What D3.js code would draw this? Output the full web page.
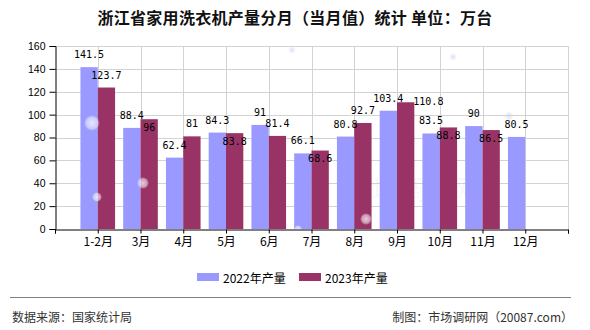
<!DOCTYPE html>
<html>
<head>
<meta charset="utf-8">
<script src="https://cdn.jsdelivr.net/npm/d3@7"></script>
<style>
  html, body { margin: 0; padding: 0; background: #fff; }
  svg { display: block; }
</style>
</head>
<body>
<svg id="chart" width="590" height="330"></svg>
<script>
// Monthly washing-machine output, Zhejiang province (10k units)
const categories = ["1-2月", "3月", "4月", "5月", "6月", "7月", "8月", "9月", "10月", "11月", "12月"];
const values2022 = [141.5, 88.4, 62.4, 84.3, 91, 66.1, 80.8, 103.4, 83.5, 90, 80.5];
const values2023 = [123.7, 96, 81, 83.8, 81.4, 68.6, 92.7, 110.8, 88.8, 86.5];
const seriesNames = ["2022年产量", "2023年产量"];
const yTicks = [0, 20, 40, 60, 80, 100, 120, 140, 160];

// where each value label sits relative to its bar
const labelPlace2022 = values2022.map(() => "top");
const labelPlace2023 = ["top", "below", "top", "below", "top", "below", "top", "right", "below", "below"];

const colors = ["#9999ff", "#993366"];
const cjk = "'Noto Sans CJK SC', 'Noto Sans', sans-serif";
const mono = "'DejaVu Sans Mono', 'Liberation Mono', monospace";

const svg = d3.select("#chart");
const plot = { left: 55, right: 568, top: 46, bottom: 229 };

svg.append("rect").attr("width", 590).attr("height", 330).attr("fill", "#fff");

// soft glow used by the decorative bubbles
const defs = svg.append("defs");
const glow = defs.append("radialGradient").attr("id", "glow");
glow.append("stop").attr("offset", "0%").attr("stop-color", "#fff").attr("stop-opacity", 0.75);
glow.append("stop").attr("offset", "70%").attr("stop-color", "#fff").attr("stop-opacity", 0.5);
glow.append("stop").attr("offset", "100%").attr("stop-color", "#fff").attr("stop-opacity", 0);
const dot = defs.append("radialGradient").attr("id", "dot");
dot.append("stop").attr("offset", "0%").attr("stop-color", "#c8c8f0").attr("stop-opacity", 0.6);
dot.append("stop").attr("offset", "100%").attr("stop-color", "#c8c8f0").attr("stop-opacity", 0);

// title
svg.append("text")
  .attr("x", 295).attr("y", 17)
  .attr("text-anchor", "middle").attr("dominant-baseline", "central")
  .style("font-family", cjk).style("font-size", "16px").style("font-weight", "bold")
  .style("letter-spacing", "0.3px")
  .attr("fill", "#111")
  .text("浙江省家用洗衣机产量分月（当月值）统计 单位：万台");

// scales: categories sit on integer positions 1..11 of a 0..12 axis
const x = d3.scaleLinear().domain([0, categories.length + 1]).range([plot.left, plot.right]);
const y = d3.scaleLinear().domain([0, 160]).range([plot.bottom, plot.top]);
const step = x(1) - x(0);
const barW = step * 0.405;

// watermark
svg.append("text")
  .attr("x", 412).attr("y", 188)
  .attr("text-anchor", "middle").attr("dominant-baseline", "central")
  .style("font-family", cjk).style("font-size", "27px")
  .attr("fill", "#000").attr("fill-opacity", 0.045)
  .text("市场调研网");

// gridlines
const grid = svg.append("g").attr("stroke", "#d3d3d3").attr("stroke-width", 1);
grid.selectAll("line.h").data(yTicks.filter(d => d > 0)).join("line")
  .attr("x1", plot.left).attr("x2", plot.right)
  .attr("y1", d => Math.round(y(d)) + 0.5).attr("y2", d => Math.round(y(d)) + 0.5);
grid.selectAll("line.v").data(d3.range(1, categories.length + 2)).join("line")
  .attr("y1", plot.top).attr("y2", plot.bottom)
  .attr("x1", d => Math.round(x(d)) + 0.5).attr("x2", d => Math.round(x(d)) + 0.5);

// faint background dots
svg.append("g").selectAll("circle")
  .data([[292, 50, 4], [453, 57, 4], [509, 116, 5]])
  .join("circle")
  .attr("cx", d => d[0]).attr("cy", d => d[1]).attr("r", d => d[2])
  .attr("fill", "url(#dot)");

// bars
const series = [values2022, values2023];
series.forEach((vals, s) => {
  svg.append("g").selectAll("rect").data(vals).join("rect")
    .attr("x", (d, i) => x(i + 1) - barW + s * barW)
    .attr("y", d => y(d))
    .attr("width", barW)
    .attr("height", d => y(0) - y(d))
    .attr("fill", colors[s]);
});

// decorative bubbles over the bars
svg.append("g").selectAll("circle")
  .data([[92, 123, 8], [143, 183, 6], [97, 197, 5], [366, 219, 6], [298, 229, 4]])
  .join("circle")
  .attr("cx", d => d[0]).attr("cy", d => d[1]).attr("r", d => d[2])
  .attr("fill", "url(#glow)");

// value labels
const places = [labelPlace2022, labelPlace2023];
series.forEach((vals, s) => {
  svg.append("g").selectAll("text").data(vals).join("text")
    .attr("x", (d, i) => {
      const cx = x(i + 1) - barW / 2 + s * barW;
      return places[s][i] === "right" ? cx + barW / 2 - 1 : cx;
    })
    .attr("y", (d, i) => {
      const p = places[s][i];
      if (p === "below") return y(d) + 8;
      if (p === "right") return y(d) - 0.5;
      return y(d) - 12.5;
    })
    .attr("text-anchor", (d, i) => places[s][i] === "right" ? "start" : "middle")
    .attr("dominant-baseline", "central")
    .style("font-family", mono).style("font-size", "10px")
    .attr("fill", "#000")
    .text(d => d);
});

// axes
const yAxis = d3.axisLeft(y).tickValues(yTicks).tickSize(6).tickPadding(4);
const gy = svg.append("g").attr("transform", `translate(${plot.left + 0.5},0)`).call(yAxis);
gy.selectAll("text").style("font-family", "'Liberation Sans', Arial, sans-serif").style("font-size", "10.5px").attr("fill", "#000");

const xAxis = d3.axisBottom(x)
  .tickValues(d3.range(0, categories.length + 2))
  .tickFormat(d => categories[d - 1] || "")
  .tickSize(4).tickPadding(4);
const gx = svg.append("g").attr("transform", `translate(0,${plot.bottom + 0.5})`).call(xAxis);
gx.selectAll("text").style("font-family", cjk).style("font-size", "12px").attr("fill", "#000");
[gx, gy].forEach(g => {
  g.select(".domain").attr("stroke", "#000");
  g.selectAll(".tick line").attr("stroke", "#000");
});

// legend
const legend = svg.append("g");
const legendX = [197, 299];
seriesNames.forEach((name, s) => {
  legend.append("rect").attr("x", legendX[s]).attr("y", 273).attr("width", 22).attr("height", 8).attr("fill", colors[s]);
  legend.append("text")
    .attr("x", legendX[s] + 26).attr("y", 277)
    .attr("dominant-baseline", "central")
    .style("font-family", cjk).style("font-size", "12px").attr("fill", "#000")
    .text(name);
});

// footer
svg.append("line").attr("x1", 10).attr("x2", 571).attr("y1", 297.5).attr("y2", 297.5)
  .attr("stroke", "#808080").attr("stroke-width", 1);
svg.append("text")
  .attr("x", 12).attr("y", 316).attr("dominant-baseline", "central")
  .style("font-family", cjk).style("font-size", "12px").attr("fill", "#333")
  .text("数据来源：国家统计局");
svg.append("text")
  .attr("x", 573).attr("y", 316).attr("text-anchor", "end").attr("dominant-baseline", "central")
  .style("font-family", cjk).style("font-size", "12px").attr("fill", "#333")
  .text("制图：市场调研网（20087.com）");
</script>
</body>
</html>
